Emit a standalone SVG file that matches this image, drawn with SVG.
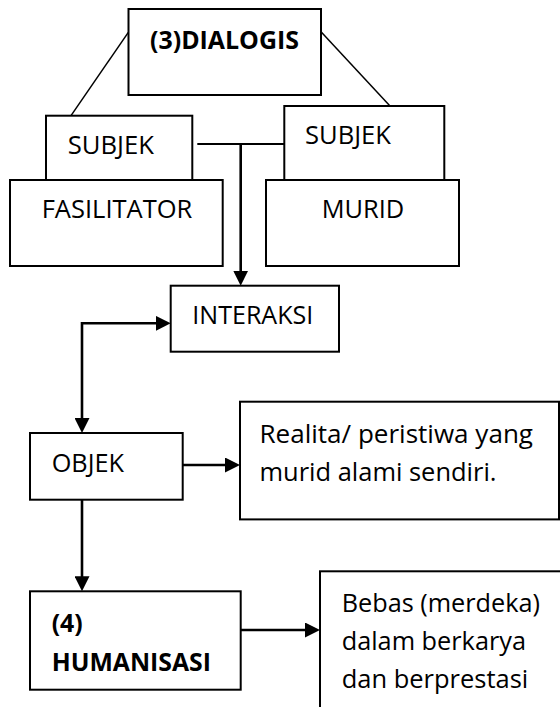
<svg xmlns="http://www.w3.org/2000/svg" width="560" height="707" viewBox="0 0 560 707">
  <style>
    .box { fill: #ffffff; stroke: #000000; stroke-width: 2; }
    .t { font-family: "Open Sans", "Liberation Sans", sans-serif; font-size: 25.5px; fill: #000000; }
    .b { font-weight: bold; }
    .thin { fill: none; stroke: #000000; stroke-width: 1.5; }
    .conn { fill: none; stroke: #000000; stroke-width: 2.6; }
  </style>
  <defs>
    <marker id="arrow" markerUnits="userSpaceOnUse" markerWidth="15" markerHeight="15" refX="3" refY="7.5" orient="auto-start-reverse">
      <path d="M0,0 L15,7.5 L0,15 Z" fill="#000000"/>
    </marker>
  </defs>

  <g id="connectors">
    <line class="thin" x1="128.3" y1="32.3" x2="71" y2="115.7"/>
    <line class="thin" x1="321" y1="31.7" x2="390" y2="106"/>
    <line class="conn" x1="197.3" y1="144" x2="284.3" y2="144" style="stroke-width:2"/>
    <line class="conn" x1="240.7" y1="144" x2="240.7" y2="273.7" marker-end="url(#arrow)"/>
    <path class="conn" d="M158.7,323.3 H82 V421" marker-start="url(#arrow)" marker-end="url(#arrow)"/>
    <line class="conn" x1="182.7" y1="465" x2="228" y2="465" marker-end="url(#arrow)"/>
    <line class="conn" x1="82" y1="499.7" x2="82" y2="579.3" marker-end="url(#arrow)"/>
    <line class="conn" x1="240.7" y1="630" x2="308" y2="630" marker-end="url(#arrow)"/>
  </g>

  <g id="dialogis">
    <rect class="box" x="128.5" y="9" width="192.5" height="86"/>
    <text class="t b" x="150" y="49" textLength="149" lengthAdjust="spacingAndGlyphs">(3)DIALOGIS</text>
  </g>
  <g id="subjek-fasilitator">
    <rect class="box" x="46" y="115.7" width="146.3" height="64.3"/>
    <text class="t" x="67.7" y="154" textLength="86.3" lengthAdjust="spacingAndGlyphs">SUBJEK</text>
  </g>
  <g id="subjek-murid">
    <rect class="box" x="284.3" y="106" width="160" height="74"/>
    <text class="t" x="305" y="143.5" textLength="86" lengthAdjust="spacingAndGlyphs">SUBJEK</text>
  </g>
  <g id="fasilitator">
    <rect class="box" x="10" y="180" width="212.7" height="86"/>
    <text class="t" x="41.7" y="218.3" textLength="150.6" lengthAdjust="spacingAndGlyphs">FASILITATOR</text>
  </g>
  <g id="murid">
    <rect class="box" x="266" y="180" width="193" height="86"/>
    <text class="t" x="321.7" y="218.3" textLength="82.6" lengthAdjust="spacingAndGlyphs">MURID</text>
  </g>
  <g id="interaksi">
    <rect class="box" x="170.7" y="285.7" width="168.3" height="66"/>
    <text class="t" x="192.3" y="324" textLength="121" lengthAdjust="spacingAndGlyphs">INTERAKSI</text>
  </g>
  <g id="objek">
    <rect class="box" x="30" y="433" width="152.7" height="66.7"/>
    <text class="t" x="51.7" y="472.3" textLength="72.3" lengthAdjust="spacingAndGlyphs">OBJEK</text>
  </g>
  <g id="realita">
    <rect class="box" x="240" y="401.7" width="319" height="117.7"/>
    <text class="t" x="259.5" y="443" textLength="273.5" lengthAdjust="spacingAndGlyphs">Realita/ peristiwa yang</text>
    <text class="t" x="259.5" y="481" textLength="237" lengthAdjust="spacingAndGlyphs">murid alami sendiri.</text>
  </g>
  <g id="humanisasi">
    <rect class="box" x="30" y="591.3" width="210.7" height="98.4"/>
    <text class="t b" x="51.7" y="632" textLength="31" lengthAdjust="spacingAndGlyphs">(4)</text>
    <text class="t b" x="51.7" y="671" textLength="159.3" lengthAdjust="spacingAndGlyphs">HUMANISASI</text>
  </g>
  <g id="bebas">
    <rect class="box" x="320" y="571.3" width="260" height="160"/>
    <text class="t" x="341.7" y="612" textLength="198.3" lengthAdjust="spacingAndGlyphs">Bebas (merdeka)</text>
    <text class="t" x="341.7" y="650" textLength="184.3" lengthAdjust="spacingAndGlyphs">dalam berkarya</text>
    <text class="t" x="341.7" y="688" textLength="186.6" lengthAdjust="spacingAndGlyphs">dan berprestasi</text>
  </g>
</svg>
